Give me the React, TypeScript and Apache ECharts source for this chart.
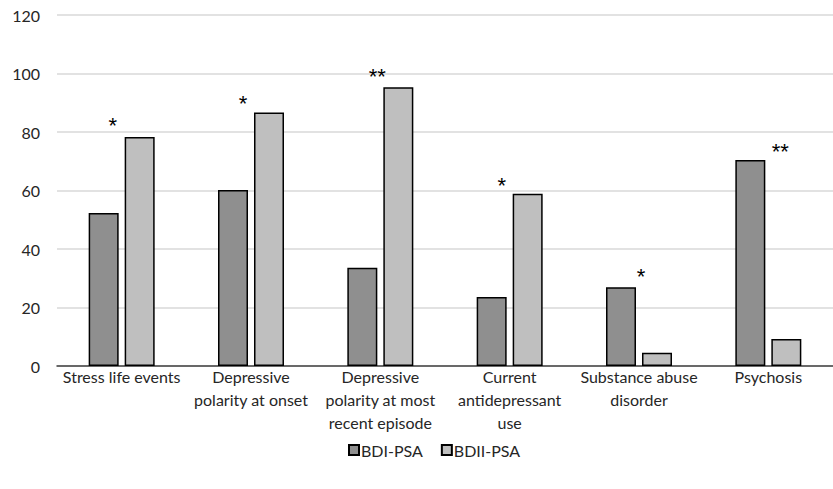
import React, { useEffect, useRef } from "react";
import * as echarts from "echarts";

const categories = [
  "Stress life events",
  "Depressive\npolarity at onset",
  "Depressive\npolarity at most\nrecent episode",
  "Current\nantidepressant\nuse",
  "Substance abuse\ndisorder",
  "Psychosis",
];
const seriesNames = ["BDI-PSA", "BDII-PSA"];
const bdiValues = [52.3, 60.2, 33.6, 23.6, 26.9, 70.4];
const bdiiValues = [78.3, 86.7, 95.3, 58.9, 4.5, 9.2];
const bdiStars = ["", "", "", "", "*", "**"];
const bdiiStars = ["*", "*", "**", "*", "", ""];
const yTicks = [0, 20, 40, 60, 80, 100, 120];

const FONT = "Lato, 'Open Sans', sans-serif";

export default function App() {
  const ref = useRef<HTMLDivElement>(null);
  useEffect(() => {
    document.body.style.margin = "0";
    const chart = echarts.init(ref.current!, null, { renderer: "svg" });
    // label offsets (style only)
    const bdiOffsets = [[0, 0], [0, 0], [0, 0], [0, 0], [20, 0], [30, 2]];
    const bdiiOffsets = [[-27, 0], [-26, 2], [-21, 0], [-26, 3], [0, 0], [0, 0]];
    const mk = (vals: number[], stars: string[], offs: number[][]) =>
      vals.map((v, i) => ({
        value: v,
        label: {
          show: stars[i] !== "",
          position: "top",
          distance: 0,
          offset: offs[i],
          formatter: stars[i],
          fontSize: 22,
          fontFamily: "'Liberation Sans', sans-serif",
          color: "#000",
          letterSpacing: 3,
        },
      }));
    chart.setOption({
      animation: false,
      textStyle: { fontFamily: FONT },
      grid: { left: 57, right: 0, top: 15, bottom: 123, containLabel: false },
      legend: {
        data: seriesNames,
        bottom: 26,
        left: 343,
        itemWidth: 10,
        itemHeight: 10,
        itemGap: 18,
        icon: "rect",
        textStyle: { fontSize: 16, color: "#262626", fontFamily: FONT, padding: [0, 0, 0, -3] },
      },
      xAxis: {
        type: "category",
        data: categories,
        axisLine: { lineStyle: { color: "#404040", width: 1.5 } },
        axisTick: { show: false },
        axisLabel: {
          interval: 0,
          fontSize: 16,
          color: "#262626",
          lineHeight: 23,
          margin: -1,
          fontFamily: FONT,
        },
      },
      yAxis: {
        type: "value",
        min: yTicks[0],
        max: yTicks[yTicks.length - 1],
        interval: 20,
        axisLine: { show: false },
        axisTick: { show: false },
        splitLine: { lineStyle: { color: "#d9d9d9", width: 1.5 } },
        axisLabel: { fontSize: 16, color: "#262626", margin: 17, fontFamily: FONT },
      },
      series: [
        {
          name: seriesNames[0],
          type: "bar",
          barWidth: 30,
          barGap: "20%",
          itemStyle: { color: "#8f8f8f", borderColor: "#000", borderWidth: 1.5 },
          data: mk(bdiValues, bdiStars, bdiOffsets),
        },
        {
          name: seriesNames[1],
          type: "bar",
          barWidth: 30,
          barGap: "20%",
          itemStyle: { color: "#bfbfbf", borderColor: "#000", borderWidth: 1.5 },
          data: mk(bdiiValues, bdiiStars, bdiiOffsets),
        },
      ],
    });
    return () => chart.dispose();
  }, []);
  return <div ref={ref} style={{ width: 833, height: 489 }} />;
}
